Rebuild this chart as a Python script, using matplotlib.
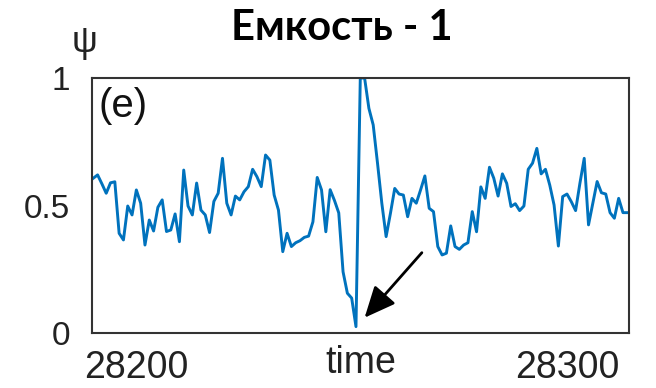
import numpy as np
import matplotlib
matplotlib.use("Agg")
import matplotlib.pyplot as plt

# psi series, one sample per time step starting at 28190
psi = [
    0.607, 0.620, 0.585, 0.548, 0.589, 0.593, 0.391, 0.365, 0.498, 0.463,
    0.561, 0.509, 0.345, 0.443, 0.400, 0.493, 0.522, 0.398, 0.404, 0.467,
    0.358, 0.639, 0.498, 0.463, 0.588, 0.482, 0.463, 0.394, 0.516, 0.548,
    0.685, 0.509,
    0.463, 0.537, 0.522, 0.554, 0.574, 0.642, 0.613, 0.574, 0.698, 0.678,
    0.541, 0.482, 0.319, 0.391, 0.339, 0.354, 0.362, 0.375, 0.380, 0.436,
    0.610, 0.561, 0.397, 0.562, 0.520, 0.471, 0.240, 0.156, 0.137, 0.025,
    1.000, 1.000, 0.881, 0.816,
    0.666, 0.509, 0.378, 0.469, 0.567, 0.545, 0.541, 0.456, 0.528, 0.509,
    0.561, 0.616, 0.489, 0.476, 0.339, 0.306, 0.313, 0.420, 0.339, 0.328,
    0.345, 0.354, 0.476, 0.397, 0.573, 0.528, 0.650, 0.607, 0.537, 0.624,
    0.587, 0.496,
    0.507, 0.480, 0.498, 0.642, 0.666, 0.724, 0.624, 0.642, 0.580, 0.502,
    0.341, 0.535, 0.545, 0.515, 0.480, 0.587, 0.685, 0.424, 0.509, 0.594,
    0.550, 0.545, 0.472, 0.450, 0.528, 0.472, 0.472,
]
t_start = 28190
time = t_start + np.arange(len(psi))

x_ticks = [28200, 28300]
x_tick_labels = ["28200", "28300"]
y_ticks = [0, 0.5, 1]
y_tick_labels = ["0", "0.5", "1"]

title = "Емкость - 1"
panel = "(e)"

fig = plt.figure(figsize=(6.56, 3.88), dpi=100)
ax = fig.add_axes([92 / 656, 1 - 333 / 388, 537 / 656, 255 / 388])

ax.plot(time, psi, color="#0072BD", lw=2.1)

ax.set_xlim(28189.7, 28314.4)
ax.set_ylim(0, 1)

sans = ["Liberation Sans", "DejaVu Sans"]

ax.set_xticks(x_ticks)
ax.set_xticklabels(x_tick_labels, family=sans, fontsize=27, color="#222222")
ax.set_yticks(y_ticks)
ax.set_yticklabels(y_tick_labels, family=sans, fontsize=24, color="#222222")
ax.tick_params(axis="both", length=0)
ax.tick_params(axis="x", pad=12)
ax.tick_params(axis="y", pad=16)

for s in ax.spines.values():
    s.set_color("#333333")
    s.set_linewidth(1.5)

ax.set_xlabel("time", family=sans, fontsize=27, color="#222222", labelpad=-29)

ax.text(0.012, 0.965, panel, transform=ax.transAxes, ha="left", va="top",
        family=sans, fontsize=29, color="#111111")

# arrow pointing at the dip
i_min = int(np.argmin(psi))
ax.annotate("", xy=(time[i_min] + 2.0, 0.06), xytext=(time[i_min] + 15.3, 0.315),
            arrowprops=dict(arrowstyle="-|>,head_length=1.9,head_width=0.85",
                            color="black", lw=2.0, shrinkA=0, shrinkB=0))

fig.text(84 / 656, 1 - 42 / 388, "ψ", ha="center", va="center",
         family=sans, fontsize=26, color="#222222")
fig.text(342 / 656, 1 - 28 / 388, title, ha="center", va="center",
         family=["Lato", "Noto Sans", "DejaVu Sans"], fontweight="bold",
         fontsize=30, color="black")

fig.savefig("out.png", dpi=100)
